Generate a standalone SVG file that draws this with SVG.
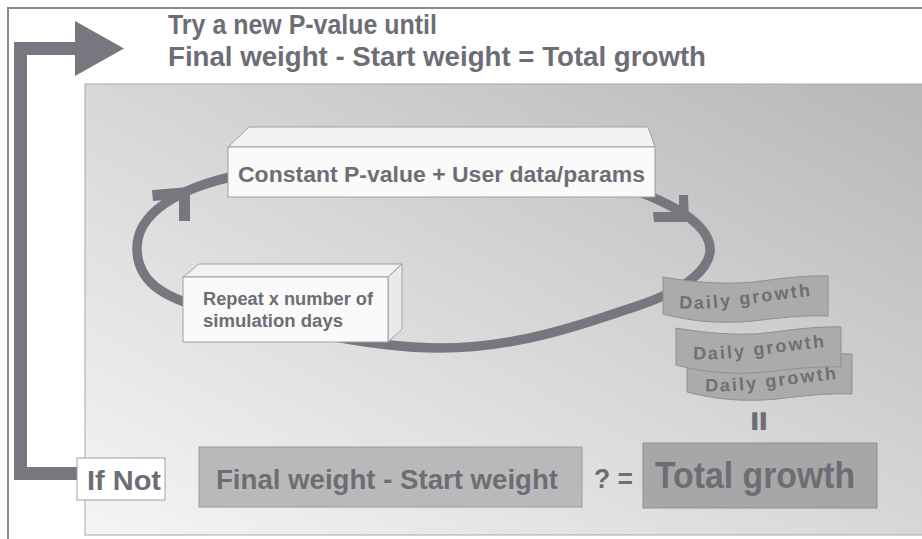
<svg xmlns="http://www.w3.org/2000/svg" width="922" height="539" viewBox="0 0 922 539">
  <defs>
    <linearGradient id="panelFill" x1="1" y1="0" x2="0" y2="1">
      <stop offset="0" stop-color="#b7b7b7"/>
      <stop offset="0.5" stop-color="#d7d7d7"/>
      <stop offset="1" stop-color="#f5f5f5"/>
    </linearGradient>
    <path id="wave" d="M0,1 C30,6 60,9 90,6 C115,3 140,-1 165,0 L165,40 C140,39 115,42 90,45 C60,48 30,46 0,38 Z"/>
    <path id="tp1" d="M679,308 C715,312 760,300 824,295"/>
    <path id="tp2" d="M693,359 C730,362 775,351 838,346"/>
    <path id="tp3" d="M705,391 C742,394 787,383 850,378"/>
  </defs>
  <style>
    text { font-family: "Liberation Sans", Arial, sans-serif; font-weight: bold; fill: #6d6d75; }
    .arrow { fill: #77777f; }
    .ring { fill: none; stroke: #77777f; stroke-width: 9.5; }
    .frame { fill: none; stroke: #8a8a8a; stroke-width: 2; }
    .front { fill: #fafafa; stroke: #a0a0a0; stroke-width: 1; }
    .top { fill: #f2f2f2; stroke: #a0a0a0; stroke-width: 1; }
    .side { fill: #e9e9e9; stroke: #a0a0a0; stroke-width: 1; }
    .banner { fill: #ababab; stroke: #909090; stroke-width: 1; }
    .btext { font-size: 18px; letter-spacing: 2.2px; fill: #6f6f77; }
    .result { fill: #b9b9b9; stroke: #9a9a9a; stroke-width: 1; }
    .total { fill: #a7a7a7; stroke: #8f8f8f; stroke-width: 1; }
  </style>

  <rect x="0" y="0" width="922" height="539" fill="#ffffff"/>
  <!-- outer frame -->
  <polyline class="frame" points="8,539 8,8 922,8"/>
  <!-- shaded panel -->
  <rect x="85" y="84" width="840" height="451" fill="url(#panelFill)" stroke="#a8a8a8" stroke-width="1"/>

  <!-- title -->
  <g id="title">
    <text x="168" y="34" font-size="27" textLength="269" lengthAdjust="spacingAndGlyphs">Try a new P-value until</text>
    <text x="168" y="66" font-size="27" textLength="538" lengthAdjust="spacingAndGlyphs">Final weight - Start weight = Total growth</text>
  </g>

  <!-- connectors -->
  <g id="connectors">
    <!-- feedback arrow back to the top -->
    <path class="arrow" d="M14,480 L14,42 L75,42 L75,21 L124,48.5 L75,76 L75,55 L27,55 L27,467 L77,467 L77,480 Z"/>
    <!-- simulation loop -->
    <path class="ring" d="M137,248 C137,215 175,188 240,175 C330,158 520,155 620,185 C680,205 712,228 710,252 C708,268 690,288 640,305 C590,322 520,348 440,348 C400,348 360,342 320,334 C250,320 190,310 160,290 C145,280 137,265 137,248 Z"/>
  </g>

  <!-- repeat box -->
  <g id="repeat">
    <polygon class="top" points="183,277 199,264 402,264 388,277"/>
    <polygon class="side" points="388,277 402,264 402,329 388,342"/>
    <rect class="front" x="183" y="277" width="205" height="65"/>
    <text x="203" y="305" font-size="18" textLength="170" lengthAdjust="spacingAndGlyphs">Repeat x number of</text>
    <text x="203" y="327" font-size="18" textLength="140" lengthAdjust="spacingAndGlyphs">simulation days</text>
  </g>

  <!-- constant input box -->
  <g id="constant">
    <polygon class="top" points="228,147 249,127 648,127 655,147"/>
    <rect class="front" x="228" y="147" width="427" height="50"/>
    <text x="238" y="182" font-size="22" textLength="407" lengthAdjust="spacingAndGlyphs">Constant P-value + User data/params</text>
  </g>

  <!-- loop arrowheads -->
  <g id="loop-heads">
    <polygon class="arrow" points="152,190 190,187 190,221 179,221 179,199 153,201"/>
    <polygon class="arrow" points="679,195 688,195 689,222 654,222 653,212 679,212"/>
  </g>

  <!-- daily growth banners -->
  <g id="daily1">
    <use href="#wave" class="banner" transform="translate(663,276)"/>
    <text class="btext"><textPath href="#tp1">Daily growth</textPath></text>
  </g>
  <g id="daily3">
    <use href="#wave" class="banner" transform="translate(687,354)"/>
    <text class="btext"><textPath href="#tp3">Daily growth</textPath></text>
  </g>
  <g id="daily2">
    <use href="#wave" class="banner" transform="translate(676,327)"/>
    <text class="btext"><textPath href="#tp2">Daily growth</textPath></text>
  </g>

  <!-- sum equals total -->
  <g id="equals">
    <text x="758.5" y="421" font-size="32" text-anchor="middle" dominant-baseline="central" stroke="#6d6d75" stroke-width="1.6" transform="rotate(90 758.5 421)">=</text>
  </g>

  <!-- bottom comparison -->
  <g id="ifnot">
    <rect x="77" y="458" width="88" height="42" fill="#ffffff" stroke="#a0a0a0" stroke-width="1"/>
    <text x="87" y="490" font-size="27" textLength="74" lengthAdjust="spacingAndGlyphs">If Not</text>
  </g>
  <g id="difference">
    <rect class="result" x="199" y="447" width="383" height="60"/>
    <text x="216" y="489" font-size="27" textLength="342" lengthAdjust="spacingAndGlyphs" fill="#74747c">Final weight - Start weight</text>
  </g>
  <g id="compare">
    <text x="594" y="488" font-size="27" textLength="39" lengthAdjust="spacingAndGlyphs">? =</text>
  </g>
  <g id="total">
    <rect class="total" x="643" y="443" width="234" height="65"/>
    <text x="655" y="488" font-size="37" textLength="200" lengthAdjust="spacingAndGlyphs">Total growth</text>
  </g>
</svg>
